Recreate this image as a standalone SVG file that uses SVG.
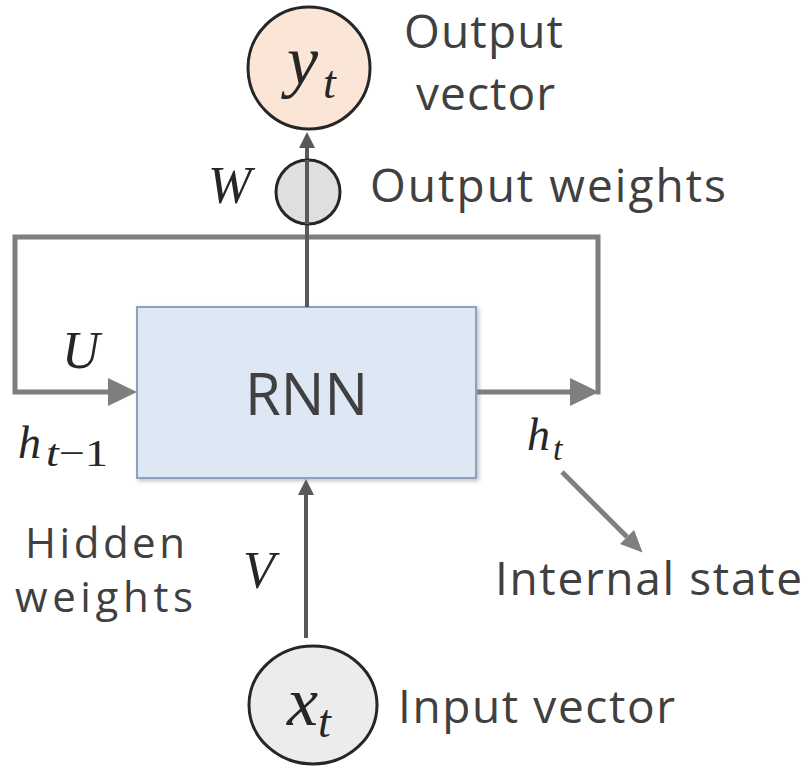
<svg xmlns="http://www.w3.org/2000/svg" width="809" height="767" viewBox="0 0 809 767">
<style>
.lbl{font-family:"Open Sans","Liberation Sans",sans-serif;font-size:46px;fill:#404040}
.math{font-family:"Liberation Serif","DejaVu Serif",serif;font-style:italic;fill:#262626}
.up{font-style:normal}
.loop{fill:none;stroke:#7f7f7f;stroke-width:5;stroke-linejoin:miter}
.flow{fill:none;stroke:#595959;stroke-width:4}
.circ{stroke:#262626;stroke-width:3}
</style>
<defs>
<marker id="bigHead" viewBox="0 0 29 28" refX="0" refY="14" markerWidth="29" markerHeight="28" markerUnits="userSpaceOnUse" orient="auto">
<path d="M0,0 L29,14 L0,28 z" fill="#7f7f7f"/>
</marker>
<marker id="smallHead" viewBox="0 0 16 16" refX="0" refY="8" markerWidth="16" markerHeight="16" markerUnits="userSpaceOnUse" orient="auto">
<path d="M0,0 L16,8 L0,16 z" fill="#595959"/>
</marker>
<marker id="diagHead" viewBox="0 0 22 20" refX="0" refY="10" markerWidth="22" markerHeight="20" markerUnits="userSpaceOnUse" orient="auto">
<path d="M0,0 L22,10 L0,20 z" fill="#7f7f7f"/>
</marker>
<filter id="shadow" x="-10%" y="-10%" width="120%" height="120%">
<feDropShadow dx="2" dy="2" stdDeviation="2" flood-color="#000" flood-opacity="0.25"/>
</filter>
</defs>

<g id="rnn">
<rect x="137" y="307" width="339" height="171" fill="#dee8f4" stroke="#8ca3c0" stroke-width="2" filter="url(#shadow)"/>
<text class="lbl" x="245" y="415" style="font-size:58px" textLength="123" lengthAdjust="spacingAndGlyphs">RNN</text>
</g>

<g id="connectors">
<path class="loop" d="M477,392 H570" marker-end="url(#bigHead)"/>
<path class="loop" d="M598,394.5 V237 H15 V392 H108" marker-end="url(#bigHead)"/>
<path class="flow" d="M307,307 V148" marker-end="url(#smallHead)"/>
<path class="flow" d="M306,638 V495" marker-end="url(#smallHead)"/>
<path class="loop" d="M562,472 L627,537" marker-end="url(#diagHead)"/>
</g>

<g id="output">
<circle class="circ" cx="309" cy="68" r="61" fill="#fbe5d6"/>
<text class="math" x="287" y="84" font-size="70">y</text>
<text class="math" x="323" y="98" font-size="46">t</text>
</g>

<g id="weightW">
<circle class="circ" cx="308" cy="192" r="32" fill="#d9d9d9" fill-opacity="0.85"/>
<path class="flow" d="M307,160 V224"/>
</g>

<g id="input">
<ellipse class="circ" cx="313" cy="705" rx="64" ry="59" fill="#ececec"/>
<text class="math" x="287" y="725" font-size="70">x</text>
<text class="math" x="318" y="737" font-size="46">t</text>
</g>

<g id="labels">
<text class="lbl" x="404" y="48" textLength="159" lengthAdjust="spacing">Output</text>
<text class="lbl" x="416" y="110" textLength="139" lengthAdjust="spacing">vector</text>
<text class="lbl" x="370" y="202" textLength="356" lengthAdjust="spacing">Output weights</text>
<text class="lbl" x="25" y="558" style="font-size:42px" textLength="160" lengthAdjust="spacing">Hidden</text>
<text class="lbl" x="15" y="612" style="font-size:42px" textLength="178" lengthAdjust="spacing">weights</text>
<text class="lbl" x="495" y="595" textLength="307" lengthAdjust="spacing">Internal state</text>
<text class="lbl" x="398" y="723" textLength="277" lengthAdjust="spacing">Input vector</text>
<text class="math" x="208" y="203" font-size="52">W</text>
<text class="math" x="62" y="368" font-size="52">U</text>
<text class="math" x="243" y="588" font-size="52">V</text>
<text class="math" x="18" y="458" font-size="46">h</text>
<text class="math" x="46" y="466" font-size="38" textLength="62" lengthAdjust="spacingAndGlyphs">t<tspan class="up">−1</tspan></text>
<text class="math" x="527" y="450" font-size="46">h</text>
<text class="math" x="553" y="460" font-size="34">t</text>
</g>
</svg>
